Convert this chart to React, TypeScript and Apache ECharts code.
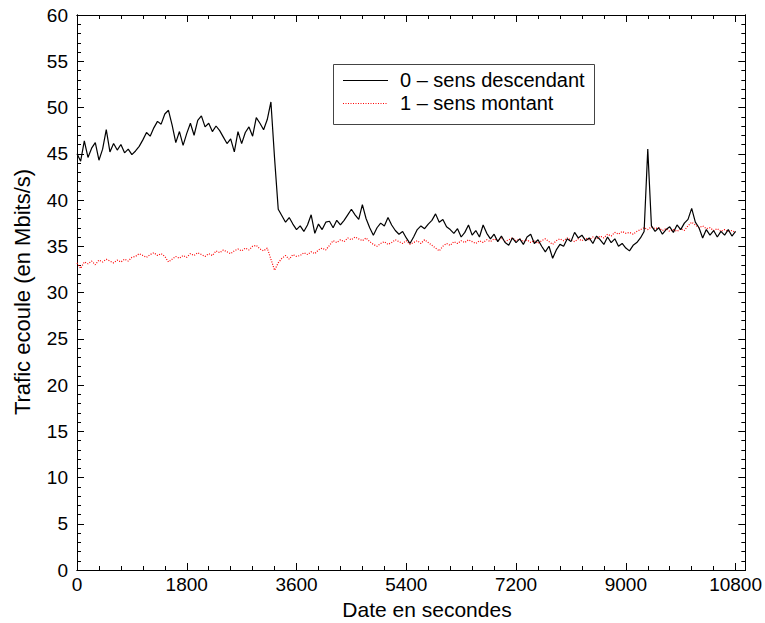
import React, { useEffect, useRef } from "react";
import * as echarts from "echarts";

const STEP = 60; // seconds between samples
const descendant = [
  45.0, 44.2, 46.4, 44.6, 45.6, 46.2, 44.3, 45.5, 47.6, 45.2,
  46.1, 45.4, 46.0, 45.1, 45.5, 44.9, 45.3, 45.8, 46.5, 47.3,
  46.9, 47.8, 48.5, 48.2, 49.3, 49.7, 48.1, 46.2, 47.4, 45.9,
  47.2, 48.3, 47.0, 48.6, 49.1, 47.9, 48.3, 47.4, 48.0, 47.5,
  46.8, 46.1, 46.6, 45.2, 47.4, 46.1, 47.3, 47.9, 46.9, 48.9,
  48.3, 47.6, 48.7, 50.6, 44.5, 39.0, 38.3, 37.6, 38.1, 37.4,
  36.8, 37.2, 36.6, 37.3, 38.4, 36.4, 37.4, 36.8, 37.6, 37.7,
  37.0, 37.8, 37.3, 37.8, 38.4, 39.0, 38.4, 37.9, 39.5, 38.0,
  37.0, 36.2, 37.0, 37.5, 37.2, 38.1, 37.3, 36.7, 36.3, 36.6,
  35.9, 35.3, 36.0, 36.8, 37.2, 36.9, 37.4, 37.8, 38.5, 37.6,
  37.9, 37.1, 36.8, 36.4, 36.9, 36.0, 36.5, 37.3, 36.2, 36.7,
  36.0, 37.3, 36.4, 35.8, 36.3, 35.5, 36.1, 35.4, 35.1, 35.9,
  35.4, 35.8, 35.2, 36.0, 36.3, 35.3, 35.7, 35.0, 34.4, 35.0,
  33.7, 34.6, 35.2, 35.0, 35.8, 35.5, 36.5, 35.9, 36.2, 35.6,
  35.9, 35.3, 36.1, 35.7, 35.2, 36.0, 35.4, 35.8, 35.0, 35.3,
  34.8, 34.5, 35.1, 35.4, 35.9, 36.6, 45.5, 37.2, 36.6, 37.0,
  36.3, 36.8, 37.1, 36.5, 37.3, 36.8, 37.5, 37.9, 39.1, 37.6,
  37.0, 35.9, 36.8, 36.2, 36.7, 36.0, 36.6, 36.2, 36.8, 36.1,
  36.6,
];
const montant = [
  33.2, 32.6, 33.3, 33.1, 33.4, 33.0, 33.5, 33.3, 33.6, 33.4,
  33.2, 33.5, 33.3, 33.6, 33.4, 33.8, 33.9, 34.2, 34.0, 33.8,
  34.1, 34.3, 34.0, 34.2, 33.9, 33.3, 33.6, 33.9, 33.7, 34.0,
  33.8, 34.2, 34.0, 34.3, 34.1, 33.9, 34.2, 34.0, 34.5, 34.3,
  34.6, 34.4, 34.2, 34.5, 34.7, 34.5, 34.8, 34.6, 35.0, 35.1,
  34.7, 34.5, 34.8, 33.6, 32.4, 33.2, 33.7, 34.0, 33.6, 34.1,
  33.9, 34.0, 34.3, 34.1, 34.4, 34.2, 34.6, 34.8, 34.6, 35.1,
  35.6, 35.4, 35.7, 35.5, 35.9, 35.7, 36.0, 35.8, 35.6, 35.9,
  35.5, 35.2, 35.0, 35.3, 35.5, 35.2, 35.4, 35.7, 35.5, 35.3,
  35.6, 35.2, 35.4, 35.6, 35.3, 35.7, 35.4, 35.1, 34.8, 34.5,
  35.0, 35.3, 35.1, 35.5, 35.3, 35.6, 35.4, 35.7, 35.5, 35.3,
  35.6, 35.4, 35.7, 35.5, 35.8, 35.6, 35.9, 35.5, 35.7, 35.9,
  35.6, 35.8, 35.5, 35.7, 35.4, 35.6, 35.3, 35.6, 35.8, 35.5,
  35.2, 35.6, 35.8, 35.6, 35.9, 35.7, 35.5, 35.8, 35.6, 35.9,
  35.7, 36.0, 35.8, 36.1, 35.9, 36.3, 36.1, 36.5, 36.3, 36.6,
  36.4, 36.5, 36.3, 36.6, 36.8, 37.0, 36.8, 37.1, 36.9, 37.0,
  36.7, 36.9, 36.6, 36.8, 36.6, 36.9, 36.7, 37.2, 37.6, 37.3,
  37.0, 37.2, 36.9, 37.0, 36.7, 36.9, 36.6, 36.8, 36.6, 36.7,
  36.5,
];
const xTickLabels = [0, 1800, 3600, 5400, 7200, 9000, 10800];
const seriesNames = ["0 \u2013 sens descendant", "1 \u2013 sens montant"];
const xTitle = "Date en secondes";
const yTitle = "Trafic ecoule (en Mbits/s)";

const FONT = "'Liberation Sans', Arial, Helvetica, sans-serif";
const BLACK = "#000";

export default function App() {
  const ref = useRef<HTMLDivElement>(null);
  useEffect(() => {
    if (!ref.current) return;
    const chart = echarts.init(ref.current, null, { renderer: "svg" });
    const toPairs = (arr: number[]) => arr.map((v, i) => [i * STEP, v]);
    const line = { show: true, onZero: false, lineStyle: { color: BLACK, width: 1 } };
    const tick = (len: number) => ({ show: true, inside: true, length: len, lineStyle: { color: BLACK, width: 1 } });
    const mkX = (position: string, interval: number, len: number, labels: boolean) => ({
      type: "value",
      min: 0,
      max: 10960,
      position,
      interval,
      axisLine: line,
      splitLine: { show: false },
      axisTick: tick(len),
      axisLabel: labels
        ? {
            color: BLACK,
            fontSize: 19,
            fontFamily: FONT,
            margin: 5,
            formatter: (v: number) => (xTickLabels.includes(v) ? String(v) : ""),
          }
        : { show: false },
    });
    const mkY = (position: string, interval: number, len: number, labels: boolean) => ({
      type: "value",
      min: 0,
      max: 60,
      position,
      interval,
      axisLine: line,
      splitLine: { show: false },
      axisTick: tick(len),
      axisLabel: labels ? { color: BLACK, fontSize: 19, fontFamily: FONT, margin: 9 } : { show: false },
    });
    chart.setOption({
      animation: false,
      backgroundColor: "#fff",
      textStyle: { fontFamily: FONT },
      grid: { left: 77, right: 19, top: 15, bottom: 53, containLabel: false },
      xAxis: [
        mkX("bottom", 1800, 7, true),
        mkX("bottom", 360, 4, false),
        mkX("top", 1800, 7, false),
        mkX("top", 360, 4, false),
      ],
      yAxis: [
        mkY("left", 5, 7, true),
        mkY("left", 1, 4, false),
        mkY("right", 5, 7, false),
        mkY("right", 1, 4, false),
      ],
      graphic: [
        {
          type: "text",
          x: 427,
          y: 609,
          style: {
            text: xTitle,
            fill: BLACK,
            font: `21px ${FONT}`,
            align: "center",
            verticalAlign: "middle",
          },
        },
        {
          type: "text",
          x: 22,
          y: 292,
          rotation: Math.PI / 2,
          style: {
            text: yTitle,
            fill: BLACK,
            font: `22px ${FONT}`,
            align: "center",
            verticalAlign: "middle",
          },
        },
        {
          type: "rect",
          shape: { x: 333.5, y: 64.5, width: 261, height: 60 },
          style: { fill: "#fff", stroke: "#444", lineWidth: 1 },
          z: 100,
        },
        {
          type: "line",
          shape: { x1: 343, y1: 80.5, x2: 388, y2: 80.5 },
          style: { stroke: BLACK, lineWidth: 1 },
          z: 101,
        },
        {
          type: "line",
          shape: { x1: 343, y1: 103.5, x2: 388, y2: 103.5 },
          style: { stroke: "#ff0000", lineWidth: 1, lineDash: [1, 1.5] },
          z: 101,
        },
        {
          type: "text",
          x: 400,
          y: 80,
          style: {
            text: seriesNames[0],
            fill: BLACK,
            font: `20px ${FONT}`,
            verticalAlign: "middle",
          },
          z: 101,
        },
        {
          type: "text",
          x: 400,
          y: 103,
          style: {
            text: seriesNames[1],
            fill: BLACK,
            font: `20px ${FONT}`,
            verticalAlign: "middle",
          },
          z: 101,
        },
      ],
      series: [
        {
          name: seriesNames[0],
          type: "line",
          xAxisIndex: 0,
          yAxisIndex: 0,
          data: toPairs(descendant),
          showSymbol: false,
          symbol: "none",
          lineStyle: { color: BLACK, width: 1.2 },
          z: 3,
        },
        {
          name: seriesNames[1],
          type: "line",
          xAxisIndex: 0,
          yAxisIndex: 0,
          data: toPairs(montant),
          showSymbol: false,
          symbol: "none",
          lineStyle: { color: "#ff0000", width: 1.2, type: [1, 1.5] },
          z: 2,
        },
      ],
    });
    return () => chart.dispose();
  }, []);
  return (
    <div
      ref={ref}
      style={{ position: "fixed", left: 0, top: 0, width: 765, height: 623, background: "#fff" }}
    />
  );
}
